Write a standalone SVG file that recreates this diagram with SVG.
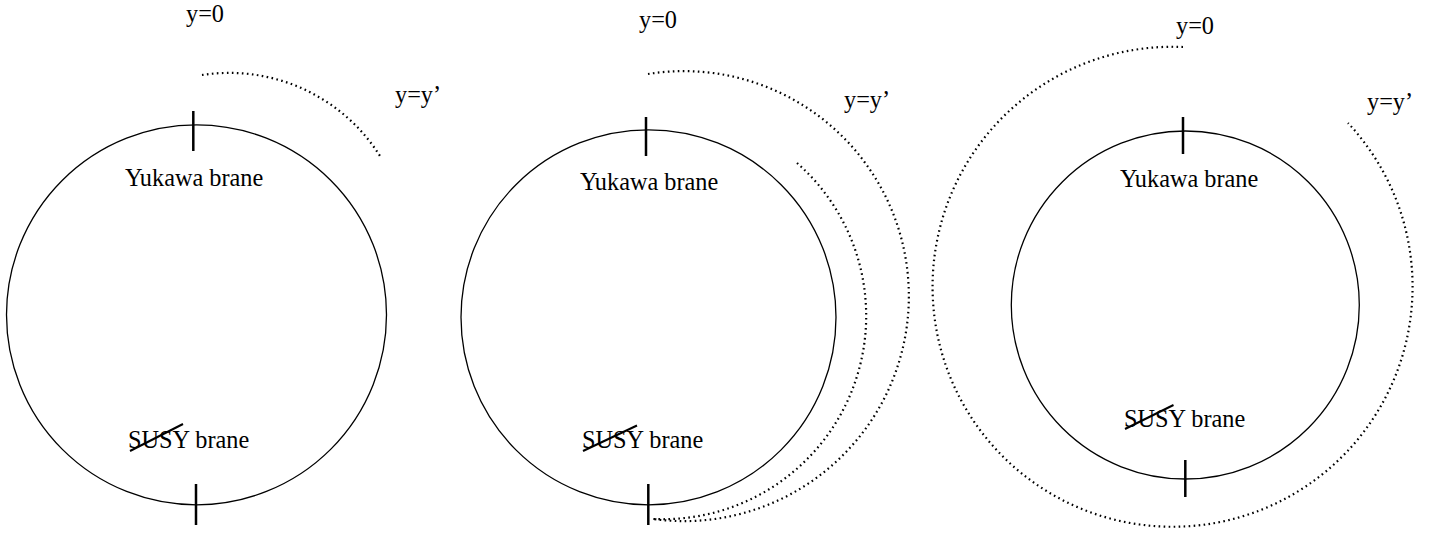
<svg xmlns="http://www.w3.org/2000/svg" width="1436" height="536" viewBox="0 0 1436 536">
<style>
.c{fill:none;stroke:#000;stroke-width:1.3}
.d{fill:none;stroke:#000;stroke-width:2.2;stroke-dasharray:1.6 3.4}
.t{fill:none;stroke:#000;stroke-width:2.5}
.s{fill:none;stroke:#000;stroke-width:2}
text{font-family:"Liberation Serif","Times New Roman",serif;font-size:24.3px;fill:#000}
</style>
<rect width="1436" height="536" fill="#fff"/>
<g id="diagram1">
<circle class="c" cx="196.5" cy="314.8" r="190"/>
<line class="t" x1="193.3" y1="111" x2="193.3" y2="151"/>
<line class="t" x1="196" y1="484" x2="196" y2="525"/>
<text x="186" y="22">y=0</text>
<text x="395" y="103">y=y’</text>
<text x="125" y="186">Yukawa brane</text>
<text x="128" y="448">SUSY brane</text>
<line class="s" x1="130" y1="451" x2="183" y2="424"/>
</g>
<g id="diagram2">
<circle class="c" cx="648.5" cy="317.3" r="187.5"/>
<line class="t" x1="646" y1="117" x2="646" y2="156"/>
<line class="t" x1="648.3" y1="484" x2="648.3" y2="525"/>
<text x="639" y="28">y=0</text>
<text x="844" y="108">y=y’</text>
<text x="580" y="190">Yukawa brane</text>
<text x="582" y="448">SUSY brane</text>
<line class="s" x1="583" y1="451" x2="637" y2="425.5"/>
</g>
<g id="diagram3">
<circle class="c" cx="1185.3" cy="305" r="174"/>
<line class="t" x1="1183" y1="117" x2="1183" y2="154"/>
<line class="t" x1="1185.3" y1="460" x2="1185.3" y2="497"/>
<text x="1176" y="34">y=0</text>
<text x="1367" y="110">y=y’</text>
<text x="1120" y="187">Yukawa brane</text>
<text x="1124" y="427">SUSY brane</text>
<line class="s" x1="1125" y1="429" x2="1173.5" y2="405"/>
</g>
<g id="connectors">
<path class="d" d="M 202 75 A 178 178 0 0 1 380 156"/>
<path class="d" d="M 648 74 A 225 225 0 1 1 653 519"/>
<path class="d" d="M 797 163 A 203.4 203.4 0 0 1 653 519"/>
<path class="d" d="M 1183 47 A 240 240 0 1 0 1348 123"/>
</g>
</svg>
